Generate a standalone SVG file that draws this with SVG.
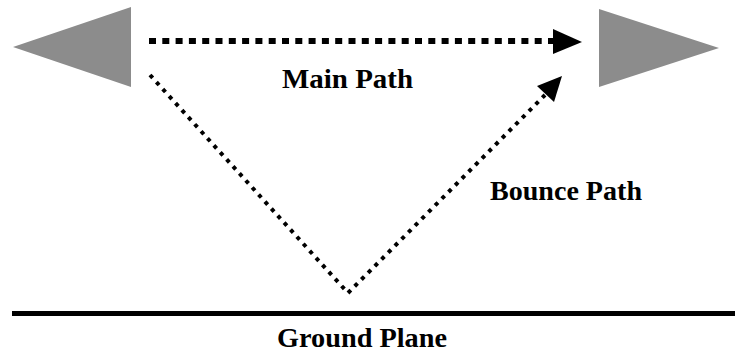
<svg xmlns="http://www.w3.org/2000/svg" width="735" height="354" viewBox="0 0 735 354">
  <style>
    .tri { fill: #8c8c8c; }
    .lbl { font-family: "Liberation Serif", "Times New Roman", serif; font-weight: bold; font-size: 28px; fill: #000; }
    .main { stroke: #000; stroke-width: 6; stroke-dasharray: 7 6.3; fill: none; }
    .bounce { stroke: #000; stroke-width: 4; stroke-dasharray: 4 5.5; fill: none; stroke-linecap: butt; }
    .head { fill: #000; }
  </style>
  <rect width="735" height="354" fill="#fff"/>
  <g id="transmitter">
    <polygon class="tri" points="131,7 131,87 13,47"/>
  </g>
  <g id="receiver">
    <polygon class="tri" points="599,9 599,87 719,48"/>
  </g>
  <g id="ground-plane">
    <line x1="12" y1="313.5" x2="735" y2="313.5" stroke="#000" stroke-width="5"/>
    <text class="lbl" x="277" y="347" textLength="170" lengthAdjust="spacingAndGlyphs">Ground Plane</text>
  </g>
  <g id="connectors">
    <g id="main-path">
      <line class="main" x1="149" y1="41" x2="554" y2="41"/>
      <polygon class="head" points="553,29 582,42 553,54"/>
    </g>
    <g id="bounce-path">
      <polyline class="bounce" points="150,75 348,293 545,95"/>
      <polygon class="head" points="562,76 537,86 554,102"/>
    </g>
  </g>
  <g id="labels">
    <text class="lbl" x="282" y="88" textLength="131" lengthAdjust="spacingAndGlyphs">Main Path</text>
    <text class="lbl" x="490" y="200" textLength="152" lengthAdjust="spacingAndGlyphs">Bounce Path</text>
  </g>
</svg>
